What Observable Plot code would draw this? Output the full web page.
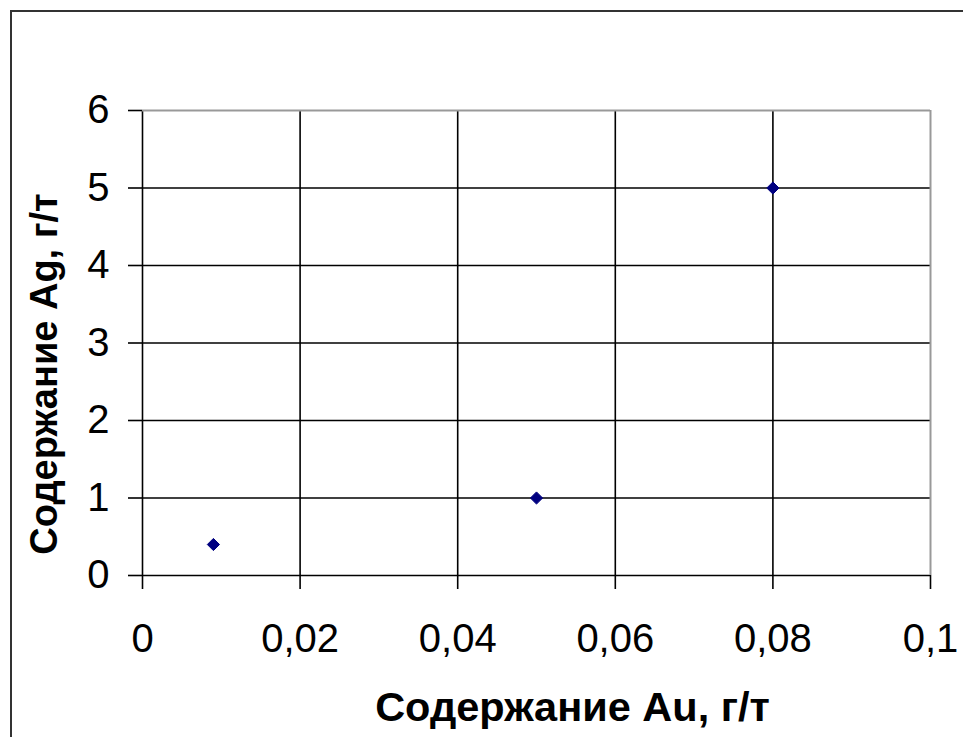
<!DOCTYPE html>
<html>
<head>
<meta charset="utf-8">
<script src="https://cdn.jsdelivr.net/npm/d3@7"></script>
<script src="https://cdn.jsdelivr.net/npm/@observablehq/plot@0.6"></script>
<style>
  html, body { margin: 0; padding: 0; background: #fff; overflow: hidden; }
  #wrap { position: relative; width: 963px; height: 737px; }
  #frame { position: absolute; left: 10px; top: 10px; width: 1000px; height: 800px;
           border-left: 2px solid #333; border-top: 2px solid #333; pointer-events: none; }
  svg { font-family: "Liberation Sans", Arial, sans-serif; }
</style>
</head>
<body>
<div id="wrap"><div id="frame"></div></div>
<script>
const au = [0.009, 0.05, 0.08];
const ag = [0.4, 1, 5];
const xTicks = [0, 0.02, 0.04, 0.06, 0.08, 0.1];
const yTicks = [0, 1, 2, 3, 4, 5, 6];
const xTitle = "Содержание Au, г/т";
const yTitle = "Содержание Ag, г/т";

const points = au.map((x, i) => ({x, y: ag[i]}));
const fmt = d => String(d).replace(".", ",");

const chart = Plot.plot({
  width: 963,
  height: 737,
  marginLeft: 142,
  marginRight: 33,
  marginTop: 110,
  marginBottom: 162,
  style: {fontFamily: '"Liberation Sans", Arial, sans-serif', background: "transparent", overflow: "visible"},
  x: {domain: [0, 0.1], ticks: xTicks},
  y: {domain: [0, 6], ticks: yTicks},
  marks: [
    Plot.ruleX(xTicks.slice(0, -1), {stroke: "#000", strokeWidth: 1.6}),
    Plot.ruleY(yTicks.slice(0, -1), {stroke: "#000", strokeWidth: 1.6}),
    Plot.ruleX(xTicks.slice(-1), {stroke: "#999", strokeWidth: 2}),
    Plot.ruleY(yTicks.slice(-1), {stroke: "#999", strokeWidth: 2}),
    Plot.axisX({ticks: xTicks, tickFormat: fmt, tickSize: 14, tickPadding: 34, fontSize: 40, stroke: "#000", strokeWidth: 1.6, label: null, fill: "#000"}),
    Plot.axisY({ticks: yTicks, tickFormat: fmt, tickSize: 14, tickPadding: 19, fontSize: 40, stroke: "#000", strokeWidth: 1.6, label: null, fill: "#000"}),
    Plot.dot(points, {x: "x", y: "y", symbol: "diamond2", r: 5.5, fill: "#000080", stroke: "#000080", strokeWidth: 1, strokeLinejoin: "round"}),
    Plot.text([xTitle], {frameAnchor: "bottom", textAnchor: "middle", dx: 36, dy: 145, lineAnchor: "bottom", fontSize: 41.5, fontWeight: "bold", fill: "#000"}),
    Plot.text([yTitle], {frameAnchor: "left", textAnchor: "middle", dx: -86, dy: 31, rotate: -90, lineAnchor: "bottom", fontSize: 38, fontWeight: "bold", fill: "#000"})
  ]
});
document.getElementById("wrap").insertBefore(chart, document.getElementById("frame"));
</script>
</body>
</html>
